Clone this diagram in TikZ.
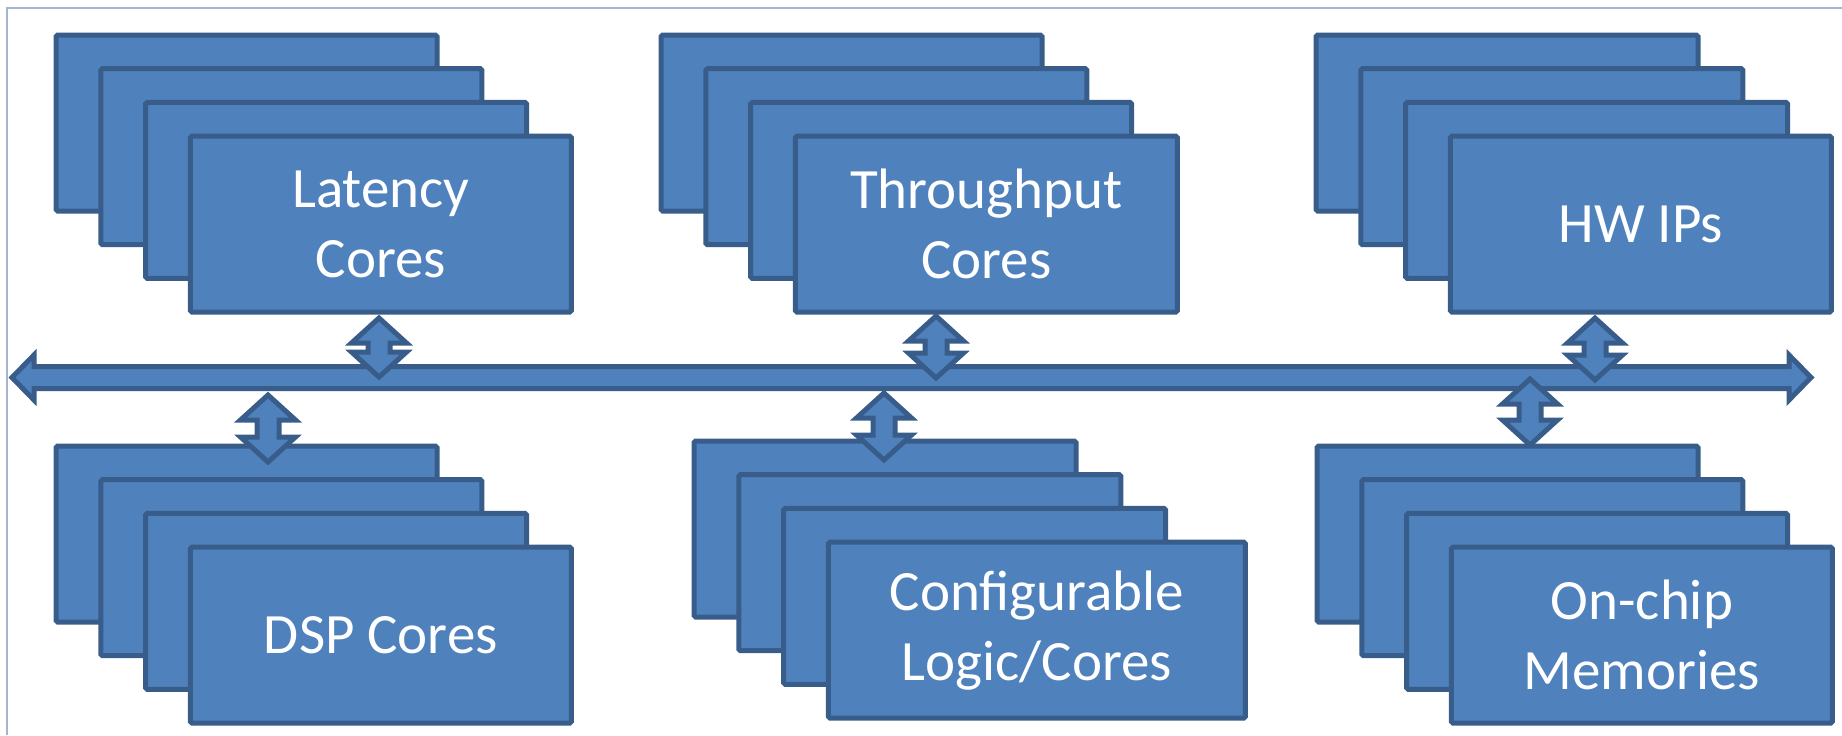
\documentclass[tikz,border=0pt]{standalone}
\usepackage{fontspec}
\setmainfont{Carlito}
\usetikzlibrary{calc}

\definecolor{cardfill}{HTML}{4F81BD}
\definecolor{cardline}{HTML}{385D8A}
\definecolor{framecol}{HTML}{A3B6CE}

\tikzset{
  card/.style={draw=cardline, fill=cardfill, line width=2.5pt, inner sep=0pt,
    anchor=north west, minimum height=88pt, rounded corners=0.8pt,
    text=white, align=center, font=\fontsize{28.5}{35}\selectfont},
  blockarrow/.style={draw=cardline, fill=cardfill, line width=2.5pt, line join=miter},
  framerule/.style={draw=framecol, line width=1pt},
}

% four stacked cards: name, left, top, width of back cards, width of front card, label
\newcommand\cardstack[6]{%
  \foreach \k in {0,1,2} {
    \node[card, minimum width={(#4-5)*0.5pt}] (#1\k) at ({#2+2.5+44.8*\k},{#3+2.5+33.7*\k}) {};
  }
  \node[card, minimum width={(#5-5)*0.5pt}] (#1) at ({#2+2.5+134.4},{#3+2.5+101.1}) {#6};
}

% vertical two-headed block arrow between two named points
\newcommand\linkarrow[2]{%
  \path[blockarrow] (#1) -- ($(#1)+(27.5,25)$) -- ($(#1)+(11,25)$)
    -- ($(#2)+(11,-25)$) -- ($(#2)+(27.5,-25)$) -- (#2)
    -- ($(#2)+(-27.5,-25)$) -- ($(#2)+(-11,-25)$)
    -- ($(#1)+(-11,25)$) -- ($(#1)+(-27.5,25)$) -- cycle;
}

\begin{document}
\begin{tikzpicture}[x=0.5pt,y=-0.5pt]
  \useasboundingbox (0,0) rectangle (1842,735);

  % page frame
  \draw[framerule] (7,735) -- (7,8) -- (1842,8);

  % processing element stacks
  \cardstack{lat}{51}{30}{386}{386}{Latency\\Cores}
  \cardstack{thr}{656}{30}{386}{387}{Throughput\\Cores}
  \cardstack{hw}{1311}{30}{387}{386}{HW IPs}
  \cardstack{dsp}{51}{441}{386}{386}{DSP Cores}
  \cardstack{cfg}{689}{436}{387}{422}{Configurable\\Logic/Cores}
  \cardstack{mem}{1312}{441}{386}{386}{On-chip\\Memories}

  % shared interconnect bus
  \coordinate (busL) at (12,377.5);
  \coordinate (busR) at (1811,377.5);
  \path[blockarrow] (busL) -- ($(busL)+(22,-22.5)$) -- ($(busL)+(22,-11)$)
    -- ($(busR)+(-22,-11)$) -- ($(busR)+(-22,-22.5)$) -- (busR)
    -- ($(busR)+(-22,22.5)$) -- ($(busR)+(-22,11)$)
    -- ($(busL)+(22,11)$) -- ($(busL)+(22,22.5)$) -- cycle;

  % links between the bus and each stack
  \coordinate (latT) at (379,318);  \coordinate (latB) at (379,377);
  \coordinate (thrT) at (936,316);  \coordinate (thrB) at (936,378);
  \coordinate (hwT)  at (1595,318); \coordinate (hwB)  at (1595,380);
  \coordinate (dspT) at (268,395);  \coordinate (dspB) at (268,462);
  \coordinate (cfgT) at (884,393);  \coordinate (cfgB) at (884,460);
  \coordinate (memT) at (1530,379); \coordinate (memB) at (1530,445);
  \linkarrow{latT}{latB}
  \linkarrow{thrT}{thrB}
  \linkarrow{hwT}{hwB}
  \linkarrow{dspT}{dspB}
  \linkarrow{cfgT}{cfgB}
  \linkarrow{memT}{memB}
\end{tikzpicture}
\end{document}
